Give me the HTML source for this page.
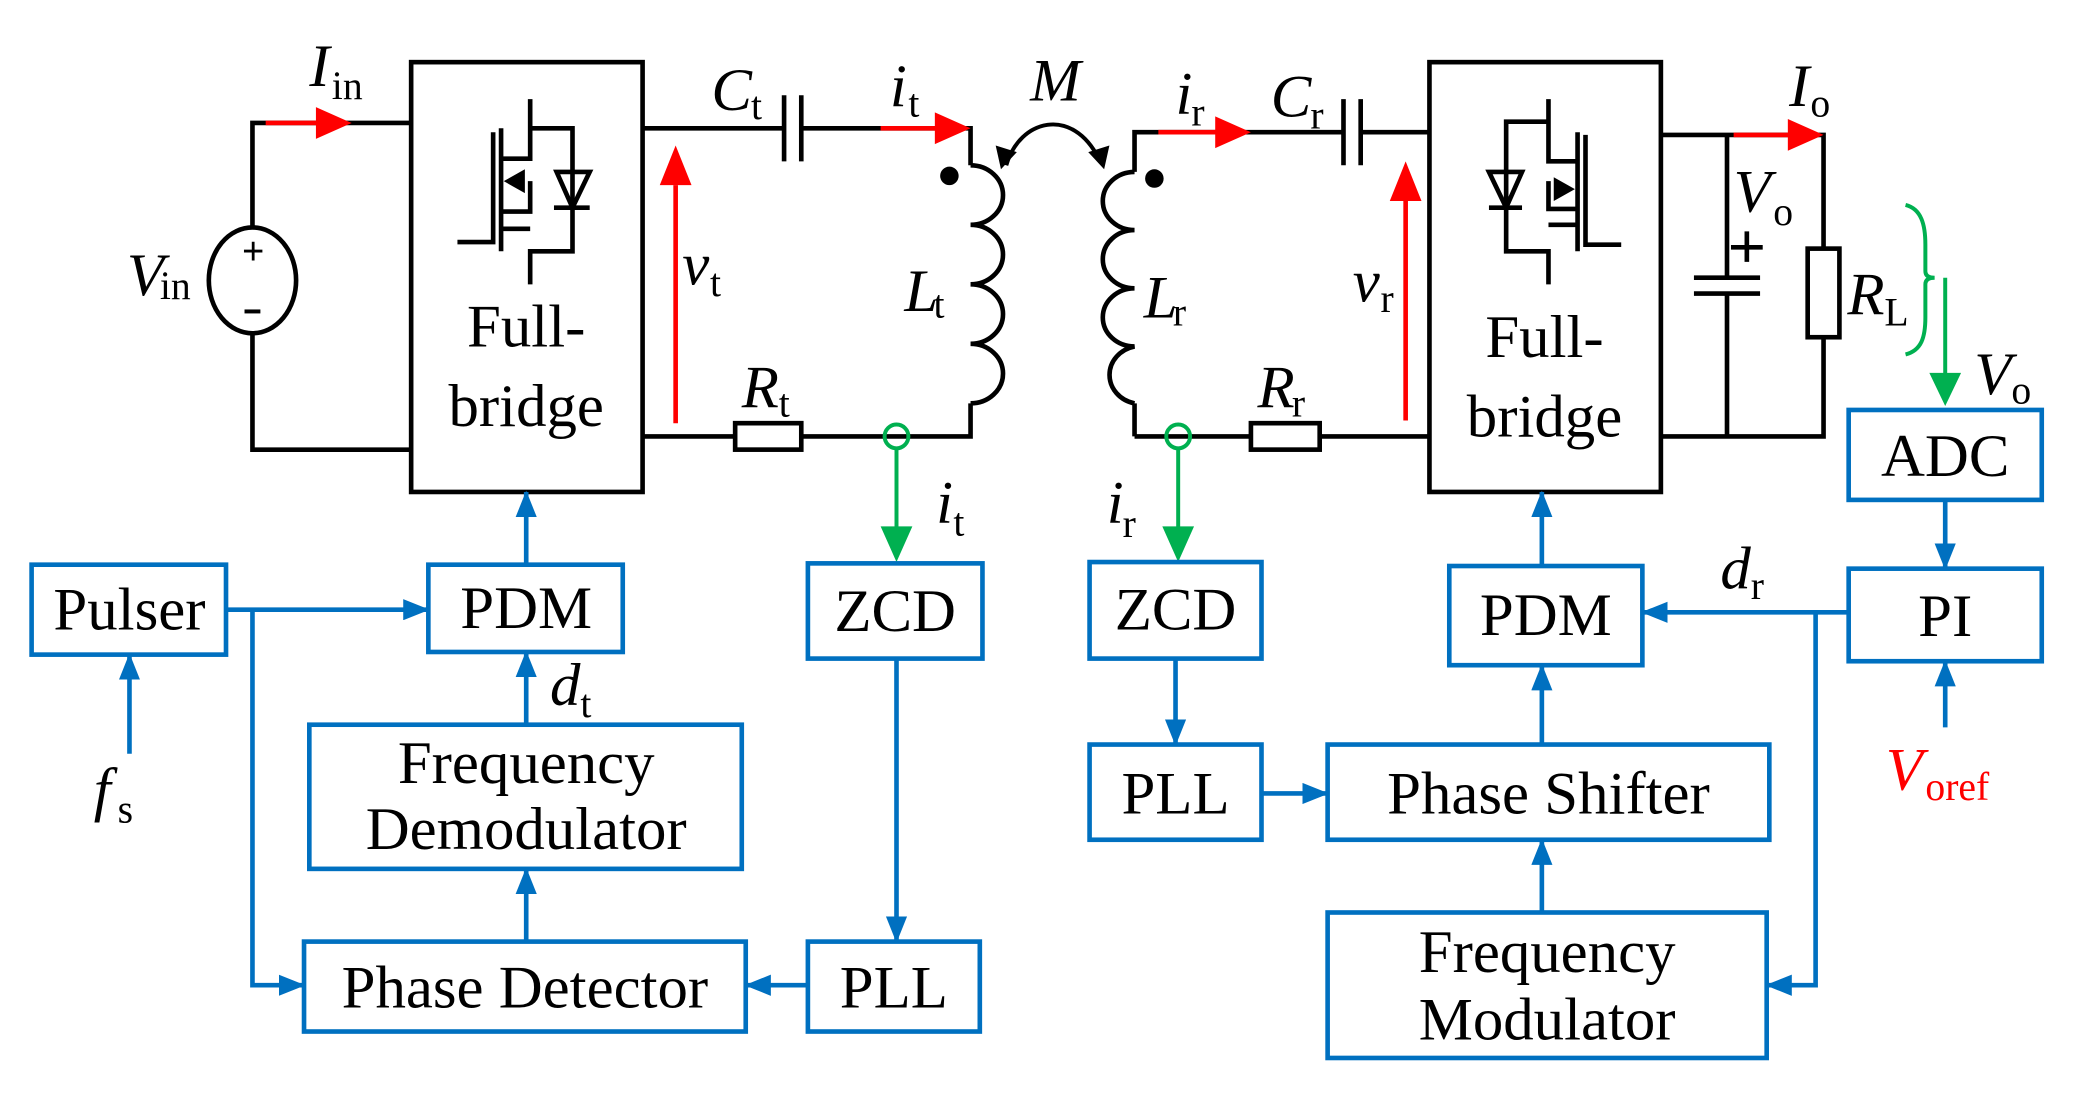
<!DOCTYPE html>
<html><head><meta charset="utf-8"><style>
html,body{margin:0;padding:0;background:#fff}
svg{display:block}
text{font-family:"Liberation Serif","Times New Roman","DejaVu Serif",serif;fill:#000}
.b{fill:none;stroke:#0070c0;stroke-width:3.5}
.k{fill:none;stroke:#000;stroke-width:3.5}
.bl{stroke:#0070c0;stroke-width:3.5;fill:none}
.t{font-size:46px}
.i{font-style:italic;font-size:46px}
.s{font-size:30px}
</style></head><body>
<svg width="2076" height="1095" viewBox="0 0 1568 828" xmlns="http://www.w3.org/2000/svg" font-family="Liberation Serif, serif">
<defs>
<marker id="ab" markerWidth="20" markerHeight="16" refX="19" refY="8" orient="auto" markerUnits="userSpaceOnUse" viewBox="0 0 20 16"><path d="M0,0 L20,8 L0,16z" fill="#0070c0"/></marker>
</defs>
<g class="k">
<path d="M310,93 H190 V172 M190,252 V340 H310"/>
<ellipse cx="190" cy="212" rx="33" ry="40"/>
<rect x="310" y="47" width="175" height="325"/>
<rect x="1080" y="47" width="175" height="325"/>
<path d="M485,97 H592 M605,97 H733 V125"/>
<path d="M592,72 V122 M605,72 V122"/>
<path d="M485,330 H555 M605,330 H733 V305"/>
<rect x="555" y="320" width="50" height="20"/>
<path d="M733,125 a24,22 0 0 1 0,45 a24,22 0 0 1 0,45 a24,22 0 0 1 0,45 a24,22 0 0 1 0,45"/>
<path d="M857,330 V305 M857,130 V100 H1015 M1028,100 H1080"/>
<path d="M1015,75 V125 M1028,75 V125"/>
<path d="M857,130 a24,22 0 0 0 0,44 a24,22 0 0 0 0,44 a24,22 0 0 0 0,44 a24,22 0 0 0 0,43"/>
<path d="M857,330 H945 M997,330 H1080"/>
<rect x="945" y="320" width="52" height="20"/>
<path d="M1255,102 H1378 V188 M1378,255 V330 H1255 M1305,102 V210 M1305,222 V330"/>
<path d="M1280,210 H1330 M1280,222 H1330 M1320,175 V198 M1308,187 H1332"/>
<rect x="1366" y="188" width="24" height="67"/>
<path d="M760,125 C770,90 810,80 830,120" stroke-width="3"/>
</g>
<path d="M756,128 L752,110 L768,115z M834,128 L838,110 L822,115z" fill="#000"/>
<circle cx="717" cy="133" r="7" fill="#000"/><circle cx="872" cy="135" r="7" fill="#000"/>
<text x="182" y="200" font-size="30" font-weight="bold">+</text>
<rect x="184" y="234" width="12" height="3" fill="#000"/>
<g class="k" stroke-width="3">
<path d="M345,183 H372 V100 M378,97 V190 M378,120 H400 V75 M400,97 H432 V190 H400 V215 M378,173 H400 M400,137 V160 H378 M418,157 H445 M432,130 V157"/>
<path d="M420,130 H445 L432,157z"/>
<path d="M1225,185 H1198 V102 M1192,100 V190 M1192,122 H1170 V75 M1170,92 H1138 V190 H1170 V215 M1192,170 H1170 M1170,137 V158 H1192 M1125,157 H1150 M1138,130 V157"/>
<path d="M1125,130 H1150 L1138,157z"/>
</g>
<path d="M380,137 L396,128 L396,146z" fill="#000"/>
<path d="M1190,143 L1174,134 L1174,152z" fill="#000"/>
<g stroke="#f00" stroke-width="3.5" fill="none">
<path d="M200,93 H240 M665,97 H710 M875,100 H920 M1310,102 H1355 M510,320 V140 M1062,318 V150"/>
</g>
<g fill="#f00">
<path d="M265,93 L238,81 L238,105z M733,97 L706,85 L706,109z M945,100 L918,88 L918,112z M1378,102 L1351,90 L1351,114z M510,110 L498,140 L522,140z M1062,122 L1050,152 L1074,152z"/>
</g>
<g stroke="#00b050" stroke-width="3" fill="none">
<circle cx="677" cy="330" r="9"/><circle cx="890" cy="330" r="9"/>
<path d="M677,339 V400 M890,339 V400 M1470,210 V285"/>
<path d="M1440,155 C1452,158 1455,170 1455,185 V205 Q1455,210 1462,210 Q1455,210 1455,215 V240 C1455,255 1452,265 1440,268"/>
</g>
<g fill="#00b050"><path d="M677,425 L665,398 L689,398z M890,425 L878,398 L902,398z M1470,307 L1458,282 L1482,282z"/></g>
<g class="b">
<rect x="23" y="427" width="147" height="68"/>
<rect x="323" y="427" width="147" height="66"/>
<rect x="610" y="426" width="132" height="72"/>
<rect x="233" y="548" width="327" height="109"/>
<rect x="229" y="712" width="334" height="68"/>
<rect x="610" y="712" width="130" height="68"/>
<rect x="823" y="425" width="130" height="73"/>
<rect x="823" y="563" width="130" height="72"/>
<rect x="1095" y="428" width="146" height="75"/>
<rect x="1003" y="563" width="334" height="72"/>
<rect x="1003" y="690" width="332" height="110"/>
<rect x="1397" y="310" width="146" height="68"/>
<rect x="1397" y="430" width="146" height="70"/>
</g>
<g class="bl" marker-end="url(#ab)">
<path d="M170,461 H323"/>
<path d="M190,461 V745 H229"/>
<path d="M97,570 V495"/>
<path d="M397,427 V372"/>
<path d="M397,548 V493"/>
<path d="M397,712 V657"/>
<path d="M610,745 H563"/>
<path d="M677,498 V712"/>
<path d="M888,498 V563"/>
<path d="M953,600 H1003"/>
<path d="M1165,563 V503"/>
<path d="M1165,690 V635"/>
<path d="M1165,428 V372"/>
<path d="M1397,463 H1241"/>
<path d="M1372,463 V745 H1335"/>
<path d="M1470,378 V430"/>
<path d="M1470,550 V500"/>
</g>
<g class="t" text-anchor="middle">
<text x="397" y="262">Full-</text><text x="397" y="322">bridge</text>
<text x="1167" y="270">Full-</text><text x="1167" y="330">bridge</text>
<text x="97" y="476">Pulser</text>
<text x="397" y="475">PDM</text>
<text x="676" y="477">ZCD</text>
<text x="397" y="592">Frequency</text><text x="397" y="642">Demodulator</text>
<text x="396" y="762">Phase Detector</text>
<text x="675" y="762">PLL</text>
<text x="888" y="476">ZCD</text>
<text x="888" y="615">PLL</text>
<text x="1168" y="480">PDM</text>
<text x="1170" y="615">Phase Shifter</text>
<text x="1169" y="735">Frequency</text><text x="1169" y="786">Modulator</text>
<text x="1470" y="360">ADC</text>
<text x="1470" y="481">PI</text>
</g>
<text class="i" x="233" y="65">I</text><text class="s" x="250" y="75">in</text>
<text class="i" x="95" y="223">V</text><text class="s" x="120" y="226">in</text>
<text class="i" x="537" y="83">C</text><text class="s" x="567" y="90">t</text>
<text class="i" x="672" y="80">i</text><text class="s" x="686" y="88">t</text>
<text class="i" x="778" y="76">M</text>
<text class="i" x="515" y="215">v</text><text class="s" x="536" y="224">t</text>
<text class="i" x="683" y="235">L</text><text class="s" x="705" y="240">t</text>
<text class="i" x="560" y="308">R</text><text class="s" x="588" y="315">t</text>
<text class="i" x="707" y="395">i</text><text class="s" x="720" y="405">t</text>
<text class="i" x="888" y="86">i</text><text class="s" x="900" y="95">r</text>
<text class="i" x="960" y="88">C</text><text class="s" x="990" y="97">r</text>
<text class="i" x="864" y="240">L</text><text class="s" x="886" y="246">r</text>
<text class="i" x="1022" y="228">v</text><text class="s" x="1043" y="236">r</text>
<text class="i" x="950" y="308">R</text><text class="s" x="976" y="315">r</text>
<text class="i" x="836" y="395">i</text><text class="s" x="848" y="406">r</text>
<text class="i" x="1352" y="80">I</text><text class="s" x="1368" y="88">o</text>
<text class="i" x="1310" y="160">V</text><text class="s" x="1340" y="170">o</text>
<text class="i" x="1396" y="238">R</text><text class="s" x="1424" y="246">L</text>
<text class="i" x="1492" y="298">V</text><text class="s" x="1520" y="305">o</text>
<text class="i" x="415" y="533">d</text><text class="s" x="438" y="542">t</text>
<text class="i" x="1300" y="445">d</text><text class="s" x="1323" y="453">r</text>
<text class="i" x="70" y="612">f</text><text class="s" x="88" y="622">s</text>
<text class="i" x="1425" y="597" style="fill:#f00">V</text><text class="s" x="1455" y="605" style="fill:#f00">oref</text>
</svg>
</body></html>
